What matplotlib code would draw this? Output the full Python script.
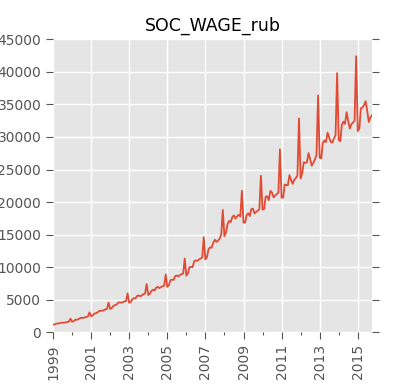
import matplotlib
matplotlib.use('Agg')
import matplotlib.pyplot as plt
import matplotlib.dates as mdates
import pandas as pd
import numpy as np

title = 'SOC_WAGE_rub'
start_month = '1999-01'

wage_1999 = [1167, 1199, 1327, 1356, 1368, 1480, 1476, 1465, 1528, 1582, 1629, 2100]
wage_2000 = [1621, 1701, 1911, 1941, 1989, 2177, 2214, 2217, 2287, 2337, 2443, 3061]
wage_2001 = [2467, 2598, 2863, 2926, 3029, 3262, 3309, 3304, 3389, 3522, 3580, 4562]
wage_2002 = [3585, 3706, 4012, 4183, 4230, 4538, 4607, 4553, 4613, 4746, 4786, 5973]
wage_2003 = [4533, 4664, 5063, 5238, 5211, 5575, 5668, 5541, 5676, 5854, 5935, 7417]
wage_2004 = [5731, 5921, 6344, 6538, 6417, 6834, 6983, 6793, 6931, 7073, 7159, 8878]
wage_2005 = [6977, 7235, 7988, 8099, 8034, 8618, 8728, 8597, 8767, 8935, 9030, 11333]
wage_2006 = [8705, 9081, 9997, 10034, 10013, 10922, 11040, 10955, 11197, 11323, 11496, 14616]
wage_2007 = [11200, 11567, 12716, 13048, 12992, 13749, 14207, 13888, 14068, 14389, 15013, 18780]
wage_2008 = [14749, 15346, 16609, 17116, 16926, 17705, 17952, 17469, 17812, 18046, 17794, 21744]
wage_2009 = [16856, 16834, 17992, 18284, 17854, 18926, 18992, 18257, 18490, 18659, 18901, 24045]
wage_2010 = [18837, 18924, 20815, 20890, 20300, 21712, 21465, 20720, 21010, 21222, 21423, 28097]
wage_2011 = [20669, 20680, 22700, 22621, 22564, 24143, 23441, 22784, 23410, 23692, 24063, 32843]
wage_2012 = [23649, 24433, 26121, 26011, 26101, 27520, 26624, 25588, 26016, 26562, 27242, 36390]
wage_2013 = [26824, 26700, 29045, 29462, 29200, 30661, 29951, 29229, 29134, 29779, 30257, 39809]
wage_2014 = [29535, 29342, 31863, 32347, 32000, 33815, 32457, 31297, 31969, 32201, 32546, 42400]
wage_2015 = [30900, 31300, 34400, 34500, 34900, 35500, 34000, 32300, 33000, 33300]

x_tick_labels = ['1999', '2001', '2003', '2005', '2007', '2009', '2011', '2013', '2015']
x_minor_labels = ['2000', '2002', '2004', '2006', '2008', '2010', '2012', '2014']
y_ticks = [0, 5000, 10000, 15000, 20000, 25000, 30000, 35000, 40000, 45000]

values = (wage_1999 + wage_2000 + wage_2001 + wage_2002 + wage_2003 + wage_2004 +
          wage_2005 + wage_2006 + wage_2007 + wage_2008 + wage_2009 + wage_2010 +
          wage_2011 + wage_2012 + wage_2013 + wage_2014 + wage_2015)
dates = pd.date_range(start_month, periods=len(values), freq='MS')

fig = plt.figure(figsize=(4.13, 3.90), dpi=100)
ax = fig.add_axes([53/413, 1 - 332.3/390, (372 - 53)/413, (332.3 - 39.3)/390])
ax.set_facecolor('#E5E5E5')
for s in ax.spines.values():
    s.set_visible(False)

ax.plot(dates, values, color='#E24A33', lw=1.3)

ax.set_xlim(dates[0], dates[-1])
ax.set_ylim(0, 45000)
ax.set_yticks(y_ticks)
ax.set_yticklabels([str(v) for v in y_ticks])

maj = [pd.Timestamp(f'{y}-01-01') for y in x_tick_labels]
mino = [pd.Timestamp(f'{y}-01-01') for y in x_minor_labels]
ax.set_xticks(maj)
ax.set_xticklabels(x_tick_labels, rotation=90)
ax.set_xticks(mino, minor=True)

ax.grid(True, which='major', color='white', lw=1.0)
ax.set_axisbelow(True)
ax.tick_params(axis='both', which='major', direction='out', length=5, width=0.8,
               color='#555555', labelcolor='#555555', labelsize=10)
ax.tick_params(axis='y', right=True, left=True)
ax.tick_params(axis='x', which='minor', direction='out', length=2.5, width=0.8, color='#555555')
ax.tick_params(axis='x', top=False)

ax.set_title(title, fontsize=12.5, color='black', pad=6)

fig.savefig('out.png', dpi=100)
